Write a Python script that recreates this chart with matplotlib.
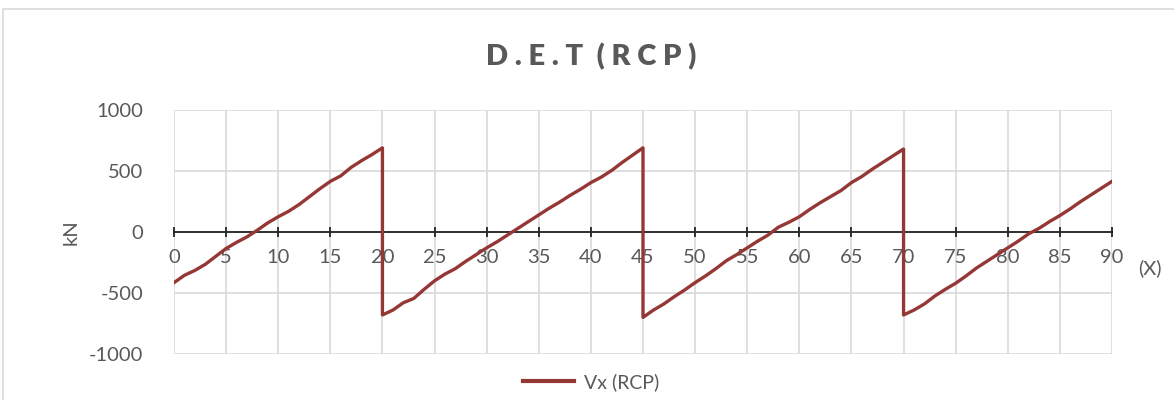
import matplotlib
matplotlib.use("Agg")
import matplotlib.pyplot as plt
from matplotlib.patches import Rectangle

# Shear force along the span (kN), sampled every 1 m, with jumps at the supports
x_seg1 = [0, 1, 2, 3, 4, 5, 6, 7, 8, 9, 10, 11, 12, 13, 14, 15, 16, 17, 18, 19, 20]
v_seg1 = [-415, -355, -315, -265, -200, -135, -85, -40, 15, 75, 125, 170, 225, 290, 355, 415, 460, 530, 585, 635, 690]

x_seg2 = [20, 21, 22, 23, 24, 25, 26, 27, 28, 29, 30, 31, 32, 33, 34, 35, 36, 37, 38, 39, 40, 41, 42, 43, 44, 45]
v_seg2 = [-680, -640, -580, -545, -470, -400, -345, -300, -240, -185, -130, -80, -25, 30, 85, 140, 195, 245, 300, 350, 405, 450, 505, 570, 630, 690]

x_seg3 = [45, 46, 47, 48, 49, 50, 51, 52, 53, 54, 55, 56, 57, 58, 59, 60, 61, 62, 63, 64, 65, 66, 67, 68, 69, 70]
v_seg3 = [-700, -640, -590, -530, -475, -415, -360, -300, -235, -185, -130, -75, -25, 40, 80, 125, 185, 240, 290, 340, 405, 455, 515, 570, 625, 680]

x_seg4 = [70, 71, 72, 73, 74, 75, 76, 77, 78, 79, 80, 81, 82, 83, 84, 85, 86, 87, 88, 89, 90]
v_seg4 = [-680, -640, -590, -525, -470, -420, -360, -295, -240, -185, -130, -75, -15, 30, 85, 135, 190, 250, 305, 360, 415]

x_ticks = list(range(0, 95, 5))
y_ticks = [-1000, -500, 0, 500, 1000]

x_all = x_seg1 + x_seg2 + x_seg3 + x_seg4
v_all = v_seg1 + v_seg2 + v_seg3 + v_seg4

TEXT = "#595959"
GRID = "#d9d9d9"
LINE = "#953735"
plt.rcParams["font.family"] = ["Lato", "DejaVu Sans"]
plt.rcParams["axes.unicode_minus"] = False

fig = plt.figure(figsize=(11.74, 4.0), dpi=100)
fig.patches.append(Rectangle((3 / 1174, -0.05), 1.1, 1 - 8.5 / 400 + 0.05,
                             transform=fig.transFigure, fill=False,
                             edgecolor=GRID, linewidth=1.2))

ax = fig.add_axes([174 / 1174, 1 - 354 / 400, (1112 - 174) / 1174, (354 - 110) / 400])
ax.plot(x_all, v_all, color=LINE, linewidth=2.4, solid_joinstyle="round",
        label="Vx (RCP)", zorder=3)

ax.set_xlim(0, 90)
ax.set_ylim(-1000, 1000)
ax.set_xticks(x_ticks)
ax.set_yticks(y_ticks)
ax.grid(True, color=GRID, linewidth=1.2, zorder=0)

for side in ("top", "right", "left"):
    ax.spines[side].set_visible(False)
ax.spines["bottom"].set_position(("data", 0))
ax.spines["bottom"].set_color("black")
ax.spines["bottom"].set_linewidth(1.1)
ax.spines["bottom"].set_zorder(2)

ax.tick_params(axis="x", direction="inout", length=7, width=1.1, color="black",
               labelsize=14.5, labelcolor=TEXT, pad=9)
ax.tick_params(axis="y", length=0, labelsize=14.5, labelcolor=TEXT, pad=22)

ax.set_ylabel("kN", fontsize=14.5, color=TEXT, va="center")
ax.yaxis.set_label_coords((71 - 174) / 938, 0.5)
fig.text(1150 / 1174, 1 - 268 / 400, "(X)", fontsize=14.5, color=TEXT,
         ha="center", va="center")

fig.text(591 / 1174, 1 - 57 / 400, "D . E . T  ( R C P )", fontsize=21,
         fontweight="heavy", color=TEXT, ha="center", va="center")

leg = fig.legend(loc="center", bbox_to_anchor=(591 / 1174, 1 - 382 / 400),
                 frameon=False, fontsize=14, handlelength=2.6, handletextpad=0.5,
                 labelcolor=TEXT)
for h in leg.legend_handles:
    h.set_linewidth(3)

fig.savefig("out.png", dpi=100)
